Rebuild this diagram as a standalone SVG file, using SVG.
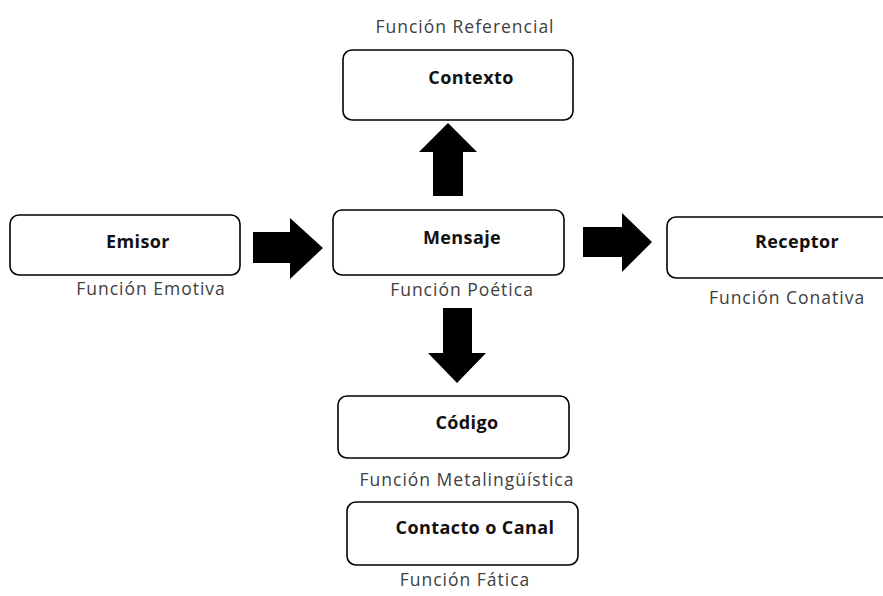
<svg xmlns="http://www.w3.org/2000/svg" width="883" height="596" viewBox="0 0 883 596">
<style>
.box{fill:#fff;stroke:#000;stroke-width:1.6}
.t{font-family:"Open Sans","Liberation Sans",sans-serif;font-size:18px;font-weight:bold;fill:#111;text-anchor:middle;letter-spacing:0.4px}
.f{font-family:"Open Sans","Liberation Sans",sans-serif;font-size:17.5px;fill:#404040;text-anchor:middle;letter-spacing:1px}
.arr{fill:#000}
</style>
<rect width="883" height="596" fill="#fff"/>
<g id="contexto">
<text class="f" x="465" y="33">Función Referencial</text>
<rect class="box" x="343" y="50" width="230" height="70" rx="9"/>
<text class="t" x="471" y="84">Contexto</text>
</g>
<g id="emisor">
<rect class="box" x="10" y="215" width="230" height="60" rx="9"/>
<text class="t" x="138" y="248">Emisor</text>
<text class="f" x="151" y="295">Función Emotiva</text>
</g>
<g id="mensaje">
<rect class="box" x="333" y="210" width="231" height="65" rx="9"/>
<text class="t" x="462" y="244">Mensaje</text>
<text class="f" x="462" y="296">Función Poética</text>
</g>
<g id="receptor">
<rect class="box" x="667" y="217" width="240" height="61" rx="9"/>
<text class="t" x="797" y="248">Receptor</text>
<text class="f" x="787" y="304">Función Conativa</text>
</g>
<g id="codigo">
<rect class="box" x="338" y="396" width="231" height="62" rx="9"/>
<text class="t" x="467" y="429">Código</text>
<text class="f" x="467" y="486">Función Metalingüística</text>
</g>
<g id="contacto">
<rect class="box" x="347" y="502" width="231" height="63" rx="9"/>
<text class="t" x="475" y="534">Contacto o Canal</text>
<text class="f" x="465" y="586">Función Fática</text>
</g>
<g id="connectors">
<polygon class="arr" points="253,232 290,232 290,218 323,248 290,279 290,263 253,263"/>
<polygon class="arr" points="583,227 622,227 622,213 652,242 622,272 622,257 583,257"/>
<polygon class="arr" points="433,196 433,152 419,152 448,123 477,152 463,152 463,196"/>
<polygon class="arr" points="443,308 472,308 472,353 486,353 457,383 428,353 443,353"/>
</g>
</svg>
